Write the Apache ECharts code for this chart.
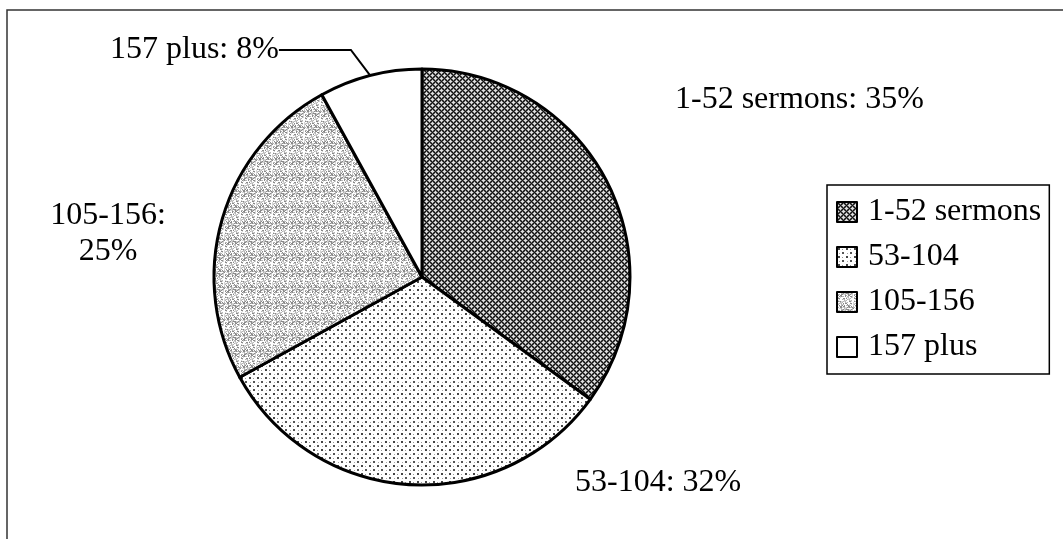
<!DOCTYPE html>
<html>
<head>
<meta charset="utf-8">
<script src="https://cdn.jsdelivr.net/npm/echarts@6/dist/echarts.min.js"></script>
<style>
    html, body { margin: 0; padding: 0; background: #fff; }
    #main { width: 1063px; height: 539px; }
</style>
</head>
<body>
<div id="main"></div>
<script>
// 数据
var categories = ['1-52 sermons', '53-104', '105-156', '157 plus'];
var percents = [35, 32, 25, 8];
var labelNames = ['1-52 sermons', '53-104', '105-156', '157 plus'];

// 标签位置 (像素)
var labelPos = [
    { x: 675, y: 100, align: 'left' },
    { x: 575, y: 483, align: 'left' },
    { x: 108, y: 234, align: 'center' },
    { x: 110, y: 50, align: 'left' }
];

var FONT = 'Liberation Serif, Times New Roman, serif';

/**
 * 生成填充纹理
 */
function makeTile(size, painter) {
    var c = document.createElement('canvas');
    c.width = size;
    c.height = size;
    var ctx = c.getContext('2d');
    ctx.fillStyle = '#fff';
    ctx.fillRect(0, 0, size, size);
    for (var x = 0; x < size; x++) {
        for (var y = 0; y < size; y++) {
            var col = painter(x, y);
            if (col) {
                ctx.fillStyle = col;
                ctx.fillRect(x, y, 1, 1);
            }
        }
    }
    return c;
}

// 1-52: 斜网格
var tileA = makeTile(6, function (x, y) {
    var u = (x + y) % 6, v = (x - y + 6) % 6;
    if (u === 0 || v === 0) return '#111';
    if (Math.abs(u - 3) <= 1 && Math.abs(v - 3) <= 1) return '#e0e0e0';
    return '#666';
});
// 53-104: 点状
var tileB = makeTile(8, function (x, y) {
    if ((x === 1 || x === 2) && (y === 1 || y === 2)) return '#444';
    if ((x === 5 || x === 6) && (y === 5 || y === 6)) return '#555';
    if (x === 5 && y === 2) return '#999';
    if (x === 2 && y === 6) return '#aaa';
    return null;
});
// 105-156: 灰色噪点
var tileC = makeTile(16, function (x, y) {
    var h = (x * 37 + y * 91 + x * y * 17 + ((x * x) % 13) * 7) % 23;
    if (h < 5) return '#8a8a8a';
    if (h < 10) return '#b5b5b5';
    if (h < 14) return '#d5d5d5';
    return null;
});

var fills = [
    { image: tileA, repeat: 'repeat' },
    { image: tileB, repeat: 'repeat' },
    { image: tileC, repeat: 'repeat' },
    '#ffffff'
];

var chart = echarts.init(document.getElementById('main'));

var pieData = categories.map(function (name, i) {
    return {
        name: name,
        value: percents[i],
        itemStyle: { color: fills[i] },
        labelLine: { show: i === 3 }
    };
});

var option = {
    animation: false,
    backgroundColor: '#fff',
    graphic: [
        {
            type: 'rect',
            silent: true,
            shape: { x: 7, y: 10, width: 1200, height: 800 },
            style: { fill: 'none', stroke: '#333', lineWidth: 1.5 }
        }
    ],
    legend: {
        orient: 'vertical',
        left: 827,
        top: 185,
        padding: [11, 8, 11, 9],
        itemGap: 13,
        itemWidth: 20,
        itemHeight: 20,
        icon: 'rect',
        borderColor: '#000',
        borderWidth: 1.5,
        backgroundColor: '#fff',
        itemStyle: {
            borderColor: '#000',
            borderWidth: 2
        },
        textStyle: {
            fontFamily: FONT,
            fontSize: 32,
            color: '#000',
            padding: [0, 0, 0, 6]
        },
        data: categories
    },
    series: [
        {
            type: 'pie',
            center: [422, 277],
            radius: 208,
            startAngle: 90,
            clockwise: true,
            itemStyle: {
                borderColor: '#000',
                borderWidth: 3
            },
            label: {
                show: true,
                position: 'outside',
                fontFamily: FONT,
                fontSize: 32,
                lineHeight: 36,
                color: '#000',
                formatter: function (p) {
                    var txt = labelNames[p.dataIndex] + ': ' + p.value + '%';
                    if (p.dataIndex === 2) {
                        txt = labelNames[p.dataIndex] + ':\n' + p.value + '%';
                    }
                    return txt;
                }
            },
            labelLine: {
                show: false,
                length: 10,
                length2: 72,
                lineStyle: { color: '#000', width: 2 }
            },
            labelLayout: function (params) {
                var pos = labelPos[params.dataIndex];
                return {
                    x: pos.x,
                    y: pos.y,
                    align: pos.align,
                    verticalAlign: 'middle'
                };
            },
            emphasis: { disabled: true },
            data: pieData
        }
    ]
};

chart.setOption(option);
</script>
</body>
</html>
